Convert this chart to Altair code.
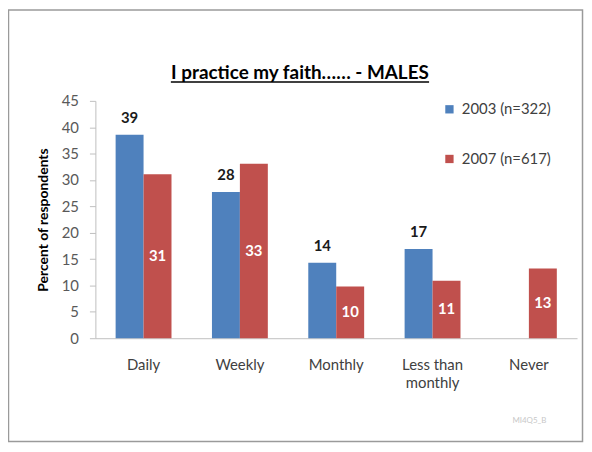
import altair as alt
import pandas as pd

categories = ["Daily", "Weekly", "Monthly", "Less than monthly", "Never"]
series_names = ["2003 (n=322)", "2007 (n=617)"]
values_2003 = [38.6, 27.7, 14.3, 16.9, None]
values_2007 = [31.1, 33.1, 9.8, 10.9, 13.2]
y_ticks = [0, 5, 10, 15, 20, 25, 30, 35, 40, 45]
colors = ["#4F81BD", "#C0504D"]

rows = []
for i, c in enumerate(categories):
    rows.append({"cat": c, "series": series_names[0], "value": values_2003[i]})
    rows.append({"cat": c, "series": series_names[1], "value": values_2007[i]})
df = pd.DataFrame(rows)
df = df[df["value"].notna()]

FONT = "Lato"

x_axis = alt.Axis(labelAngle=0, ticks=False, domainColor="#BFBFBF",
                  labelFontSize=15, labelColor="#404040", labelFont=FONT,
                  labelPadding=20, labelLineHeight=18,
                  labelExpr="datum.label == 'Less than monthly' ? ['Less than', 'monthly'] : datum.label")
x_scale = alt.Scale(paddingInner=0.42, paddingOuter=0.21)
y_axis = alt.Axis(values=y_ticks, grid=False, domainColor="#BFBFBF",
                  tickColor="#BFBFBF", tickSize=6, labelPadding=11,
                  labelOverlap=False, labelFontSize=15,
                  labelColor="#595959", labelFont=FONT,
                  title="Percent of respondents", titleFontSize=14,
                  titleFont=FONT, titleFontWeight="bold",
                  titleColor="#000000", titlePadding=11)
y_scale = alt.Scale(domain=[0, 45], nice=False)
color_enc = alt.Color("series:N", scale=alt.Scale(domain=series_names, range=colors),
                      legend=alt.Legend(title=None, orient="none", legendX=349, legendY=1,
                                        symbolType="square", symbolSize=70,
                                        symbolStrokeWidth=0, labelFontSize=15,
                                        labelColor="#404040", labelFont=FONT,
                                        rowPadding=34, labelOffset=5))

base = alt.Chart(df)

bars = base.mark_bar().encode(
    x=alt.X("cat:N", sort=categories, title=None, scale=x_scale, axis=x_axis),
    xOffset=alt.XOffset("series:N", sort=series_names),
    y=alt.Y("value:Q", scale=y_scale, axis=y_axis),
    color=color_enc,
)

labels_2003 = base.transform_filter(
    alt.datum.series == series_names[0]
).mark_text(fontSize=15, fontWeight="bold", font=FONT, color="#1a1a1a",
            baseline="bottom", dy=-9).encode(
    x=alt.X("cat:N", sort=categories, title=None, scale=x_scale, axis=x_axis),
    xOffset=alt.XOffset("series:N", sort=series_names),
    y=alt.Y("value:Q", scale=y_scale, axis=y_axis),
    text=alt.Text("value:Q", format=".0f"),
)

labels_2007 = base.transform_filter(
    alt.datum.series == series_names[1]
).transform_calculate(
    half="datum.value / 2"
).mark_text(fontSize=15, fontWeight="bold", font=FONT, color="#FFFFFF",
            baseline="middle").encode(
    x=alt.X("cat:N", sort=categories, title=None, scale=x_scale, axis=x_axis),
    xOffset=alt.XOffset("series:N", sort=series_names),
    y=alt.Y("half:Q", scale=y_scale, axis=y_axis),
    text=alt.Text("value:Q", format=".0f"),
)

title_text = alt.Chart(pd.DataFrame({"t": ["I practice my faith\u2026\u2026 - MALES"]})).mark_text(
    fontSize=19, fontWeight="bold", font=FONT, color="#000000",
    align="center", baseline="alphabetic"
).encode(x=alt.value(206), y=alt.value(-22), text="t:N")

underline = alt.Chart(pd.DataFrame({"a": [0]})).mark_rule(
    color="#000000", strokeWidth=1.3
).encode(x=alt.value(76), x2=alt.value(336), y=alt.value(-19))

watermark = alt.Chart(pd.DataFrame({"t": ["MI4Q5_B"]})).mark_text(
    fontSize=8, font=FONT, color="#C8C8C8", align="center"
).encode(x=alt.value(437), y=alt.value(322), text="t:N")

border = alt.Chart(pd.DataFrame({"a": [0]})).mark_rect(
    fill="transparent", stroke="#9A9A9A", strokeWidth=1.5
).encode(x=alt.value(-87.5), x2=alt.value(490.5), y=alt.value(-91.5), y2=alt.value(343))

chart = alt.layer(border, bars, labels_2003, labels_2007, title_text, underline, watermark).properties(
    width=485, height=239,
    autosize=alt.AutoSizeParams(type="none"),
    padding={"left": 88, "top": 92, "right": 7, "bottom": 105},
    background="white",
).configure_view(stroke=None)

chart.save("out.html", embed_options={"renderer": "svg", "actions": False})
